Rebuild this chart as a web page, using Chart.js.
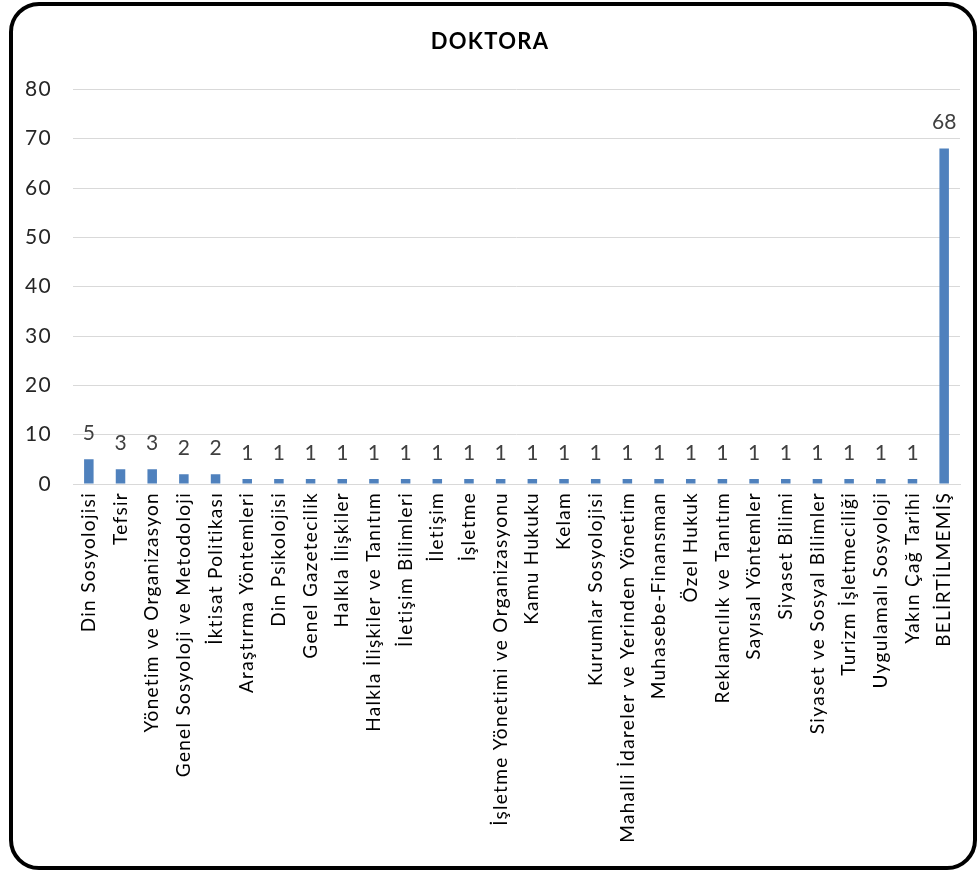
<!DOCTYPE html>
<html>
<head>
<meta charset="utf-8">
<script src="https://cdn.jsdelivr.net/npm/chart.js@4"></script>
<style>
    html, body { margin: 0; padding: 0; background: #fff; }
    #wrap { position: relative; width: 979px; height: 871px; }
    #frame {
        position: absolute; left: 9px; top: 2px; width: 960px; height: 860px;
        border: 4px solid #000; border-radius: 30px; pointer-events: none;
    }
    canvas { position: absolute; left: 0; top: 0; }
</style>
</head>
<body>
<div id="wrap">
    <canvas id="myChart" width="979" height="871"></canvas>
    <div id="frame"></div>
</div>
<script>
const categories = [
    'Din Sosyolojisi', 'Tefsir', 'Yönetim ve Organizasyon', 'Genel Sosyoloji ve Metodoloji',
    'İktisat Politikası', 'Araştırma Yöntemleri', 'Din Psikolojisi', 'Genel Gazetecilik',
    'Halkla İlişkiler', 'Halkla İlişkiler ve Tanıtım', 'İletişim Bilimleri', 'İletişim',
    'İşletme', 'İşletme Yönetimi ve Organizasyonu', 'Kamu Hukuku', 'Kelam',
    'Kurumlar Sosyolojisi', 'Mahalli İdareler ve Yerinden Yönetim', 'Muhasebe-Finansman', 'Özel Hukuk',
    'Reklamcılık ve Tanıtım', 'Sayısal Yöntemler', 'Siyaset Bilimi', 'Siyaset ve Sosyal Bilimler',
    'Turizm İşletmeciliği', 'Uygulamalı Sosyoloji', 'Yakın Çağ Tarihi', 'BELİRTİLMEMİŞ'
];
const counts = [5, 3, 3, 2, 2, 1, 1, 1, 1, 1, 1, 1, 1, 1, 1, 1, 1, 1, 1, 1, 1, 1, 1, 1, 1, 1, 1, 68];
const yTicks = [0, 10, 20, 30, 40, 50, 60, 70, 80];

const FONT = 'Lato';

// the excel text is spaced out a bit, canvas letterSpacing gets close
const spacing = {
    id: 'spacing',
    beforeDraw(chart) { chart.ctx.letterSpacing = '1.3px'; },
    afterDraw(chart) { chart.ctx.letterSpacing = '0px'; }
};

// value labels above the bars
const valueLabels = {
    id: 'valueLabels',
    afterDatasetsDraw(chart) {
        const ctx = chart.ctx;
        const meta = chart.getDatasetMeta(0);
        ctx.save();
        ctx.letterSpacing = '0px';
        ctx.font = '21px ' + FONT;
        ctx.fillStyle = '#404040';
        ctx.textAlign = 'center';
        ctx.textBaseline = 'middle';
        meta.data.forEach(function(bar, i) {
            ctx.fillText(String(counts[i]), bar.x, bar.y - 26);
        });
        ctx.restore();
    }
};

new Chart(document.getElementById('myChart'), {
    type: 'bar',
    data: {
        labels: categories,
        datasets: [{
            data: counts,
            backgroundColor: '#4f81bd',
            categoryPercentage: 1,
            barPercentage: 0.3
        }]
    },
    options: {
        responsive: false,
        animation: false,
        layout: { padding: { left: 20, right: 19, top: 8, bottom: 10 } },
        plugins: {
            legend: { display: false },
            tooltip: { enabled: false },
            title: {
                display: true,
                text: 'DOKTORA',
                color: '#000',
                font: { family: FONT, size: 22, weight: 'bold' },
                padding: { top: 21, bottom: 34 }
            }
        },
        scales: {
            x: {
                grid: { display: false, drawTicks: false },
                border: { color: '#d9d9d9' },
                ticks: {
                    color: '#000',
                    font: { family: FONT, size: 19 },
                    minRotation: 90,
                    maxRotation: 90,
                    autoSkip: false,
                    padding: 8
                },
                afterFit: function(scale) { scale.height = 377; }
            },
            y: {
                min: 0,
                max: 80,
                afterBuildTicks: function(scale) {
                    scale.ticks = yTicks.map(v => ({ value: v }));
                },
                grid: { color: '#d9d9d9', drawTicks: false },
                border: { display: false },
                ticks: {
                    color: '#262626',
                    font: { family: FONT, size: 21 },
                    padding: 21
                },
                afterFit: function(scale) { scale.width = 53; }
            }
        }
    },
    plugins: [spacing, valueLabels]
});
</script>
</body>
</html>
